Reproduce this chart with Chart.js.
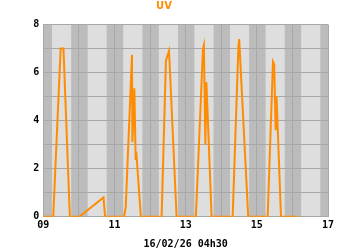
<!DOCTYPE html>
<html lang="en">
<head>
<meta charset="UTF-8">
<title>UV</title>
<script src="https://cdn.jsdelivr.net/npm/chart.js"></script>
<style>
  html, body { margin: 0; padding: 0; background: #fff; }
  #wrap { width: 350px; height: 250px; }
</style>
</head>
<body>
<div id="wrap"><canvas id="uvChart" width="350" height="250"></canvas></div>
<script>
// hours since 09/02 00h00, and the UV index read at that time
const hours = [0, 6.7, 11.7, 13.6, 17.9, 24.3, 40.6, 41.7,
               54.4, 55.6, 59.8, 60.1, 61.4, 62.3, 62.7, 65.8,
               79.8, 82.7, 84.8, 89.9,
               102.9, 107.7, 108.3, 109.3, 110.0, 113.5,
               127.7, 131.6, 132.1, 138.2,
               151.3, 154.9, 155.7, 156.7, 157.3, 160.3, 171.5];
const uv = [0, 0, 7.0, 7.0, 0, 0, 0.8, 0,
            0, 0.4, 6.74, 3.1, 5.35, 2.36, 2.7, 0,
            0, 6.5, 6.9, 0,
            0, 7.0, 7.15, 3.0, 5.6, 0,
            0, 7.1, 7.39, 0,
            0, 6.46, 6.35, 3.6, 5.0, 0, 0];
const dayLabels = ['09', '10', '11', '12', '13', '14', '15', '16', '17'];
const sunriseH = 5.9;
const sunsetH = 18.8;

// light grey for daytime, darker bands for the nights
const nightBands = {
    id: 'nightBands',
    beforeDraw(chart) {
        const { ctx, chartArea: a, scales: { x } } = chart;
        ctx.save();
        ctx.beginPath();
        ctx.rect(a.left, a.top, a.right - a.left, a.bottom - a.top);
        ctx.clip();
        ctx.fillStyle = '#dedede';
        ctx.fillRect(a.left, a.top, a.right - a.left, a.bottom - a.top);
        ctx.fillStyle = '#bcbcbc';
        for (let d = -1; d < dayLabels.length; d++) {
            const x0 = x.getPixelForValue(d * 24 + sunsetH);
            const x1 = x.getPixelForValue((d + 1) * 24 + sunriseH);
            ctx.fillRect(x0, a.top, x1 - x0, a.bottom - a.top);
        }
        ctx.restore();
    }
};

const mono = { family: '"DejaVu Sans Mono", monospace', size: 10, weight: 'bold' };

new Chart(document.getElementById('uvChart'), {
    type: 'line',
    data: {
        datasets: [{
            data: hours.map((h, i) => ({ x: h, y: uv[i] })),
            borderColor: '#ff8c00',
            borderWidth: 2,
            pointRadius: 0,
            tension: 0,
            fill: false
        }]
    },
    options: {
        responsive: false,
        animation: false,
        devicePixelRatio: 1,
        layout: { padding: { left: 0, right: 22, top: 0, bottom: 0 } },
        plugins: {
            legend: { display: false },
            tooltip: { enabled: false },
            title: {
                display: true,
                text: 'UV',
                color: '#ff8c00',
                font: { family: '"DejaVu Sans", sans-serif', size: 10, weight: 'bold' },
                padding: { top: 0, bottom: 12.5 }
            }
        },
        scales: {
            x: {
                type: 'linear',
                min: 0,
                max: (dayLabels.length - 1) * 24,
                grid: { color: '#a8a8a8', drawTicks: false },
                border: { color: '#a8a8a8' },
                ticks: {
                    stepSize: 24,
                    autoSkip: false,
                    maxRotation: 0,
                    padding: 3,
                    color: '#000',
                    font: mono,
                    callback: v => (v / 24) % 2 === 0 ? dayLabels[v / 24] : ''
                },
                title: {
                    display: true,
                    text: '16/02/26 04h30',
                    color: '#000',
                    font: mono,
                    padding: 0
                },
                afterFit: s => { s.height = 33.3; }
            },
            y: {
                min: 0,
                max: 8,
                grid: { color: '#a8a8a8', drawTicks: false },
                border: { color: '#a8a8a8' },
                ticks: {
                    stepSize: 1,
                    padding: 4,
                    color: '#000',
                    font: mono,
                    callback: v => v % 2 === 0 ? v : ''
                },
                afterFit: s => { s.width = 43.3; }
            }
        }
    },
    plugins: [nightBands]
});
</script>
</body>
</html>
